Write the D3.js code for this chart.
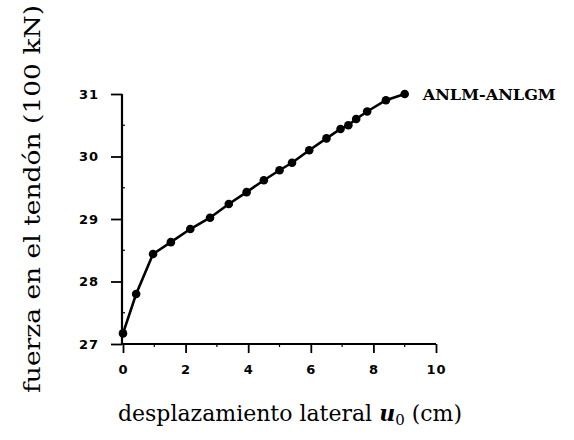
<!DOCTYPE html>
<html>
<head>
<meta charset="utf-8">
<script src="https://cdn.jsdelivr.net/npm/d3@7"></script>
<style>
  html, body { margin: 0; padding: 0; background: #fff; }
  svg { display: block; }
</style>
</head>
<body>
<script>
// Lateral displacement (cm) and tendon force (100 kN)
const desplazamiento = [0, 0.42, 0.96, 1.53, 2.15, 2.78, 3.38, 3.95, 4.5, 5.0, 5.4, 5.95, 6.5, 6.95, 7.2, 7.45, 7.8, 8.4, 9.0];
const fuerza = [27.17, 27.8, 28.44, 28.63, 28.84, 29.02, 29.24, 29.43, 29.62, 29.78, 29.9, 30.1, 30.29, 30.44, 30.5, 30.6, 30.72, 30.9, 31.0];
const xTicks = [0, 2, 4, 6, 8, 10];
const yTicks = [27, 28, 29, 30, 31];
const serieLabel = "ANLM-ANLGM";

const W = 574, H = 440;
const svg = d3.select("body").append("svg").attr("width", W).attr("height", H);

const x = d3.scaleLinear().domain([0, 10]).range([123, 436]);
const y = d3.scaleLinear().domain([27, 31]).range([344, 94]);

const tickFont = "'DejaVu Sans', sans-serif";
const serif = "'DejaVu Serif', 'Liberation Serif', serif";

// X axis
const gx = svg.append("g").attr("transform", `translate(0,${y(27)})`)
  .call(d3.axisBottom(x).tickValues(xTicks).tickSize(9).tickPadding(12).tickFormat(d3.format("d")));
gx.select(".domain").attr("d", `M${x(0) - 1},0H${x(10)}`).attr("stroke-width", 2.2);
gx.selectAll(".tick line").attr("stroke-width", 1.8);
gx.selectAll(".tick text").attr("font-family", tickFont).attr("font-weight", "bold")
  .attr("font-size", 13).attr("letter-spacing", 1).attr("fill", "#000");
// minor ticks
gx.selectAll(".minor").data([1, 3, 5, 7, 9]).join("line").attr("class", "minor")
  .attr("x1", d => x(d)).attr("x2", d => x(d)).attr("y1", 0).attr("y2", 3)
  .attr("stroke", "#000").attr("stroke-width", 1.2);

// Y axis
const gy = svg.append("g").attr("transform", `translate(${x(0) - 1},0)`)
  .call(d3.axisLeft(y).tickValues(yTicks).tickSize(11).tickPadding(12).tickFormat(d3.format("d")));
gy.select(".domain").attr("d", `M0,${y(31)}V${y(27)}`).attr("stroke-width", 2.2);
gy.selectAll(".tick line").attr("stroke-width", 1.8);
gy.selectAll(".tick text").attr("font-family", tickFont).attr("font-weight", "bold")
  .attr("font-size", 13).attr("letter-spacing", 1).attr("fill", "#000");
gy.selectAll(".minor").data([27.5, 28.5, 29.5, 30.5]).join("line").attr("class", "minor")
  .attr("y1", d => y(d)).attr("y2", d => y(d)).attr("x1", 0).attr("x2", 3)
  .attr("stroke", "#000").attr("stroke-width", 1.2);

// Series line and markers
const pts = desplazamiento.map((d, i) => [d, fuerza[i]]);
svg.append("path").datum(pts)
  .attr("fill", "none").attr("stroke", "#000").attr("stroke-width", 2.6)
  .attr("d", d3.line().x(d => x(d[0])).y(d => y(d[1])));
svg.selectAll("circle.pt").data(pts).join("circle").attr("class", "pt")
  .attr("cx", d => x(d[0])).attr("cy", d => y(d[1])).attr("r", 4.3).attr("fill", "#000");

// Series label at the end of the curve
const last = pts[pts.length - 1];
svg.append("text").attr("x", x(last[0]) + 18).attr("y", y(last[1]) + 6)
  .attr("font-family", serif).attr("font-weight", "bold").attr("font-size", 14)
  .attr("textLength", 133).attr("lengthAdjust", "spacingAndGlyphs")
  .text(serieLabel);

// Axis titles
const xt = svg.append("text").attr("x", 290).attr("y", 421).attr("text-anchor", "middle")
  .attr("font-family", serif).attr("font-size", 22);
xt.append("tspan").text("desplazamiento lateral ");
xt.append("tspan").attr("font-style", "italic").attr("font-weight", "bold").text("u");
xt.append("tspan").attr("font-size", 15).attr("dy", 4).text("0");
xt.append("tspan").attr("dy", -4).text(" (cm)");

svg.append("text")
  .attr("transform", `translate(40,199) rotate(-90)`)
  .attr("text-anchor", "middle")
  .attr("font-family", serif).attr("font-size", 22)
  .attr("textLength", 388).attr("lengthAdjust", "spacingAndGlyphs")
  .text("fuerza en el tendón (100 kN)");
</script>
</body>
</html>
